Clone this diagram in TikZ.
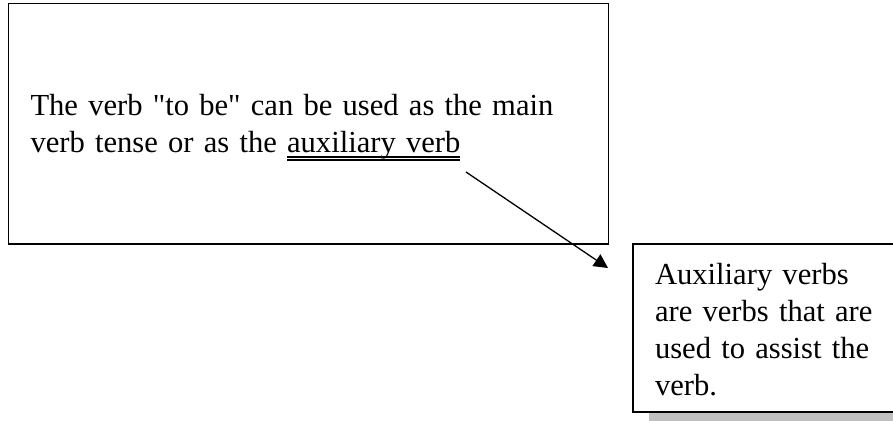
\documentclass[tikz,border=0pt]{standalone}
\usepackage{fontspec}
\setmainfont{Liberation Serif}[Ligatures=TeXOff]
\usetikzlibrary{arrows.meta, shadows}
\definecolor{shadowgray}{HTML}{C0C0C0}
% double underline
\newcommand{\dblul}[1]{\setbox0\hbox{#1}%
  \rlap{\rule[-4.6pt]{\wd0}{1.2pt}}\rlap{\rule[-7.6pt]{\wd0}{1.2pt}}\box0}
\tikzset{
  notebox/.style = {draw, line width=1.8pt, fill=white, align=left,
                    inner xsep=22pt, inner ysep=0pt,
                    font=\fontsize{30.6}{37}\selectfont},
  callout/.style = {notebox, drop shadow={shadow xshift=16pt, shadow yshift=-16pt,
                    fill=shadowgray, opacity=1}},
  pointer/.style = {-{Triangle[length=14pt, width=14pt]}, line width=1.3pt},
}
\begin{document}
\begin{tikzpicture}[x=1pt, y=-1pt]
    \useasboundingbox (0,0) rectangle (893,420);
    \clip (0,0) rectangle (893,420);
    % main statement
    \node[notebox, text width=556pt, minimum height=240.5pt] (main) at (308.5,123.75)
      {\rule{0pt}{29pt}The verb "to be" can be used as the main\\verb tense or as the \dblul{auxiliary verb}};
    % callout with definition
    \node[callout, text width=228pt, minimum height=168pt] (aux) at (769,328)
      {\rule{0pt}{24pt}Auxiliary verbs\\are verbs that are\\used to assist the\\verb.};

    \coordinate (tail) at (466,172);
    \coordinate (tip)  at (608,268);
    \draw[pointer] (tail) -- (tip);
  \end{tikzpicture}
\end{document}
